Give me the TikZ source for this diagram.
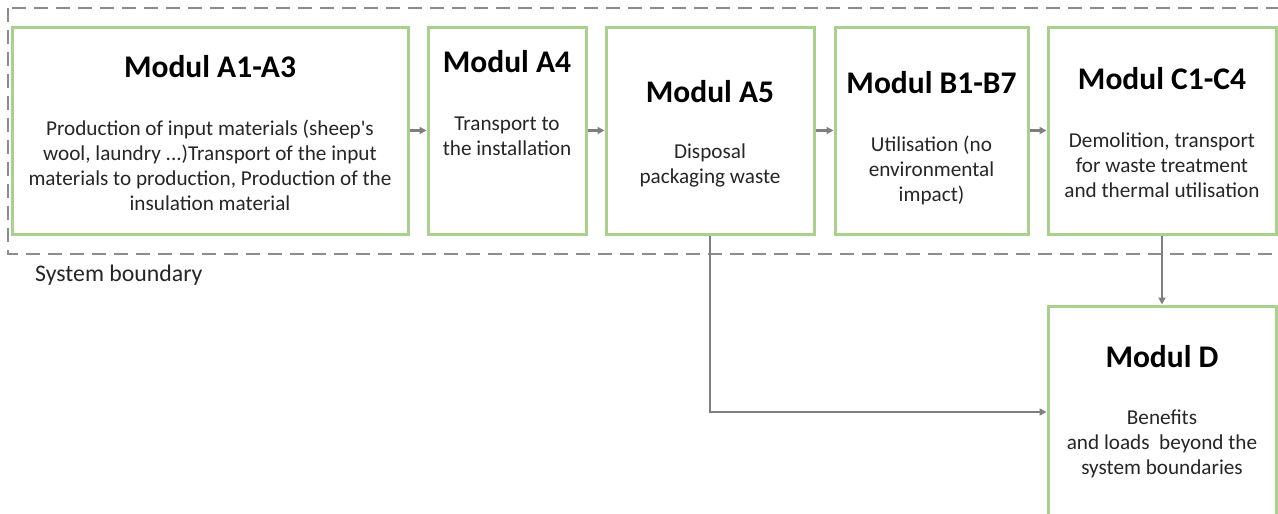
\documentclass[tikz,border=0pt]{standalone}
\usepackage{fontspec}
\setmainfont{Carlito}
\usetikzlibrary{arrows.meta}
\definecolor{boxgreen}{HTML}{A9D18E}
\definecolor{conngray}{HTML}{7F7F7F}
\definecolor{dashgray}{HTML}{8C8C8C}
\definecolor{bodytxt}{HTML}{262626}
\begin{document}
\begin{tikzpicture}[x=1pt,y=-1pt,
  modbox/.style={draw=boxgreen, line width=3pt, inner sep=0pt, fill=white},
  conn/.style={draw=conngray, line width=2.3pt, -{Triangle[length=7pt,width=7pt]}},
  boundary/.style={draw=dashgray, line width=2pt, dash pattern=on 14pt off 8pt},
  modtitle/.style={font=\fontsize{31.5}{36}\selectfont\bfseries, text=black, inner sep=0pt},
  modbody/.style={font=\fontsize{21.2}{25}\selectfont, text=bodytxt, align=center, inner sep=0pt}]
\useasboundingbox (0,0) rectangle (1278,514);
\clip (0,0) rectangle (1278,514);
\fill[white] (0,0) rectangle (1278,514);
% system boundary
\draw[boundary] (8,8) rectangle (1300,254);
\node[font=\fontsize{23.8}{28}\selectfont, text=bodytxt, anchor=west, inner sep=0pt] (sb) at (35,275) {System boundary};
% boxes
\node[modbox, minimum width=396pt, minimum height=207pt] (a13) at (210,130.5) {};
\node[modbox, minimum width=158pt, minimum height=207pt] (a4) at (507,130.5) {};
\node[modbox, minimum width=208pt, minimum height=207pt] (a5) at (710,130.5) {};
\node[modbox, minimum width=193pt, minimum height=207pt] (b17) at (931.5,130.5) {};
\node[modbox, minimum width=228pt, minimum height=207pt] (c14) at (1162,130.5) {};
\node[modbox, minimum width=228pt, minimum height=212pt] (d) at (1162,412) {};
% titles
\node[modtitle] (t13) at (210,67) {Modul A1-A3};
\node[modtitle] (t4) at (507,62) {Modul A4};
\node[modtitle] (t5) at (710,92) {Modul A5};
\node[modtitle] (tb) at (931.5,83) {Modul B1-B7};
\node[modtitle] (tc) at (1162,79) {Modul C1-C4};
\node[modtitle] (td) at (1162,357) {Modul D};
% bodies
\node[modbody] (b13) at (210,165.5) {Production of input materials (sheep\textquotesingle s\\wool, laundry ...)Transport of the input\\materials to production, Production of the\\insulation material};
\node[modbody] (b4) at (507,136.5) {Transport to\\the installation};
\node[modbody] (b5) at (710,165.5) {Disposal\\packaging waste};
\node[modbody] (bb) at (931.5,170) {Utilisation (no\\environmental\\impact)};
\node[modbody] (bc) at (1162,165) {Demolition, transport\\for waste treatment\\and thermal utilisation};
\node[modbody] (bd) at (1162,444) {Benefits\\and loads\ \ beyond the\\system boundaries};
% connectors
\draw[conn] (a13.east) -- (a4.west);
\draw[conn] (a4.west -| a4.east) -- (a5.west);
\draw[conn] (a5.east) -- (b17.west);
\draw[conn] (b17.east) -- (c14.west);
\draw[conn] (c14.south) -- (d.north);
\draw[conn] (a5.south) |- (d.west);
\end{tikzpicture}
\end{document}
